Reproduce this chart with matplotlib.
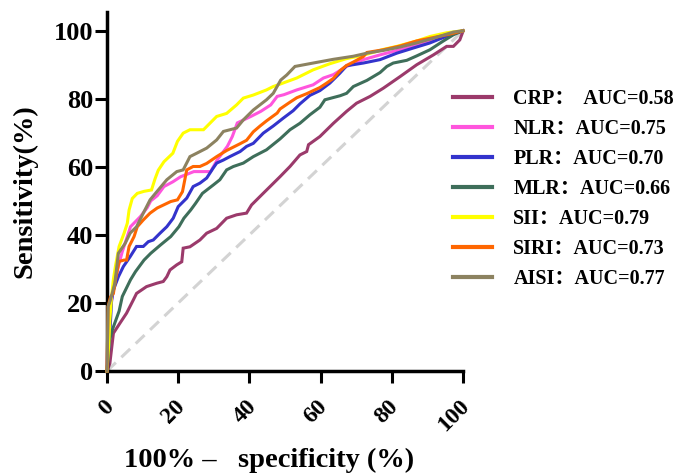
import matplotlib
matplotlib.use("Agg")
import matplotlib.pyplot as plt
import matplotlib.transforms as mtransforms
from matplotlib.font_manager import FontProperties

plt.rcParams["font.family"] = ["Liberation Serif", "Noto Sans CJK SC"]
plt.rcParams["font.weight"] = "bold"

# ROC curves (x = 100% - specificity, y = sensitivity)
crp_x = [0, 0.8, 1.8, 3.6, 5.5, 7.4, 8.3, 11.1, 14.0, 15.8, 16.8, 17.7, 19.6, 21.0, 21.4, 23.3,
         26.1, 28.0, 30.8, 33.6, 36.4, 39.2, 40.6, 43.0, 45.8, 48.6, 51.4, 54.2, 56.1, 56.6,
         59.8, 63.6, 67.3, 70.1, 73.9, 77.6, 82.3, 87.0, 91.7, 95.4, 97.3, 99.1, 100]
crp_y = [0, 2.2, 11.1, 14.0, 17.0, 20.9, 22.8, 24.8, 25.8, 26.3, 27.7, 29.7, 31.2, 32.1, 36.1, 36.5,
         38.5, 40.5, 41.9, 44.9, 45.9, 46.4, 48.8, 51.3, 54.2, 57.1, 60.1, 63.5, 64.5, 66.5,
         68.9, 72.8, 76.3, 78.7, 80.7, 83.1, 86.5, 90.0, 92.9, 95.4, 95.4, 97.3, 99.8]

nlr_x = [0, 0.2, 0.56, 1.5, 2.9, 4.3, 5.7, 6.6, 8.0, 9.4, 11.3, 12.3, 14.1, 16.0, 18.5, 20.7,
         24.4, 29.1, 31.0, 33.8, 35.2, 36.6, 40.4, 43.2, 46.0, 47.8, 49.7, 53.3, 57.9, 60.8,
         63.6, 67.3, 72.0, 76.7, 81.4, 86.0, 90.7, 95.4, 100]
nlr_y = [0, 9, 16.0, 21.9, 29.7, 35.1, 39.5, 42.4, 43.9, 45.4, 48.0, 50.0, 51.5, 54.2, 55.6, 57.1,
         58.6, 58.6, 62.1, 66.0, 68.9, 72.9, 74.8, 76.3, 78.2, 80.7, 81.2, 82.6, 84.1, 86.1,
         87.1, 89.5, 91.5, 92.9, 94.2, 95.4, 97.0, 98.3, 100]

plr_x = [0, 0.8, 1.3, 1.8, 3.2, 4.6, 6.5, 8.3, 10.2, 11.6, 13.0, 14.9, 16.8, 18.6, 20.0, 22.4,
         24.2, 26.1, 28.0, 29.8, 30.8, 32.7, 34.5, 37.4, 39.2, 41.1, 43.9, 46.7, 49.5, 52.3,
         54.2, 57.0, 59.8, 62.6, 65.4, 67.3, 72.0, 76.7, 81.4, 86.0, 90.7, 96.3, 100]
plr_y = [0, 11.1, 20.9, 23.8, 27.7, 30.7, 33.6, 36.6, 36.6, 38.0, 38.5, 40.5, 42.4, 44.9, 48.3, 50.8,
         54.2, 55.2, 56.7, 59.6, 61.1, 62.0, 63.0, 64.5, 66.0, 66.9, 69.9, 72.0, 74.3, 76.5,
         78.5, 81.0, 82.4, 84.6, 87.5, 89.7, 90.5, 91.5, 93.4, 94.9, 96.4, 98.8, 100]

mlr_x = [0, 0.7, 1.5, 3.4, 4.3, 6.6, 8.0, 10.4, 12.3, 15.1, 17.9, 20.2, 21.6, 23.5, 24.9, 26.8,
         29.9, 31.7, 33.6, 35.5, 38.3, 41.1, 44.8, 48.6, 51.4, 54.2, 57.0, 59.8, 61.2, 65.5,
         67.3, 69.2, 73.0, 76.7, 78.6, 80.4, 84.2, 87.0, 90.7, 94.5, 97.3, 100]
mlr_y = [0, 9, 12.1, 17.6, 21.9, 26.8, 29.2, 32.6, 34.6, 37.1, 39.5, 42.4, 44.9, 47.3, 49.3, 52.2,
         54.7, 56.2, 59.1, 60.1, 61.1, 63.0, 65.0, 68.2, 70.9, 72.8, 75.3, 77.5, 79.7, 80.9,
         81.6, 83.6, 85.4, 87.7, 89.5, 90.5, 91.3, 92.6, 94.4, 97.0, 98.8, 100]

sii_x = [0, 0.5, 0.8, 1.3, 1.8, 2.4, 3.4, 4.8, 5.7, 6.2, 7.1, 8.5, 10.4, 12.5, 13.5, 14.4, 16.0,
         18.5, 19.8, 21.4, 23.3, 27.1, 28.9, 30.8, 33.6, 36.4, 38.3, 41.1, 44.8, 46.7, 48.6,
         53.3, 57.9, 62.6, 67.3, 72.0, 77.6, 81.4, 87.0, 90.7, 95.4, 100]
sii_y = [0, 8, 15, 22, 27, 31, 36.6, 40.5, 43.4, 47.3, 50.7, 52.2, 52.8, 53.2, 56.5, 59.0, 61.5,
         64.0, 67.5, 69.9, 70.9, 70.9, 72.8, 74.8, 75.7, 78.2, 80.2, 81.1, 82.6, 83.6, 84.3,
         86.1, 88.5, 90.3, 91.8, 92.8, 94.5, 95.4, 97.0, 98.3, 99.4, 100]

siri_x = [0, 0.3, 1.0, 1.8, 2.4, 3.4, 4.8, 5.5, 6.2, 7.6, 8.5, 10.2, 12.1, 14.1, 17.9, 19.8, 21.2,
          22.4, 24.2, 26.1, 28.0, 30.8, 33.6, 37.4, 39.2, 41.1, 43.0, 44.8, 47.8, 48.6, 51.4,
          53.3, 56.1, 59.8, 61.7, 63.6, 65.5, 67.3, 69.2, 72.0, 73.0, 77.6, 82.3, 87.0, 91.7,
          96.3, 100]
siri_y = [0, 19, 21.8, 22.8, 26.8, 32.2, 32.6, 32.6, 36.6, 39.5, 42.4, 44.4, 46.4, 47.9, 49.8, 50.3,
          52.7, 59.1, 60.1, 60.1, 61.0, 63.0, 64.8, 66.8, 67.8, 70.3, 72.0, 73.5, 75.8, 77.0,
          79.0, 80.3, 81.5, 83.3, 84.6, 86.0, 88.3, 89.8, 90.8, 92.4, 93.6, 94.4, 95.5, 97.0,
          98.0, 99.0, 100]

aisi_x = [0, 0.3, 1.0, 2.2, 3.2, 5.1, 6.5, 8.3, 10.2, 12.1, 14.4, 16.8, 19.6, 21.4, 23.3, 25.2,
          28.0, 30.8, 32.7, 36.4, 38.3, 41.1, 44.8, 46.7, 48.8, 50.5, 52.8, 57.9, 63.6, 69.2,
          73.0, 77.6, 82.3, 87.0, 91.7, 97.3, 100]
aisi_y = [0, 18.9, 21, 25.8, 34.6, 37.5, 40.5, 42.4, 46.4, 50.3, 53.2, 56.2, 58.6, 59.1, 63.0, 64.0,
          65.5, 67.9, 70.4, 71.4, 73.8, 76.7, 79.7, 81.6, 85.5, 87.0, 89.5, 90.5, 91.6, 92.5,
          93.4, 94.2, 95.2, 96.4, 97.8, 99.6, 100]

labels = ["CRP：  AUC=0.58", "NLR：AUC=0.75", "PLR：AUC=0.70", "MLR：AUC=0.66",
          "SII：AUC=0.79", "SIRI：AUC=0.73", "AISI：AUC=0.77"]
colors = ["#9B3A6B", "#FF55DD", "#3333CC", "#3E6E5A", "#FFFF00", "#FF6600", "#8C8260"]
curves = [(crp_x, crp_y), (nlr_x, nlr_y), (plr_x, plr_y), (mlr_x, mlr_y),
          (sii_x, sii_y), (siri_x, siri_y), (aisi_x, aisi_y)]
draw_order = [0, 3, 2, 1, 4, 5, 6]

fig = plt.figure(figsize=(6.77, 4.74), dpi=100, facecolor="white")
ax = fig.add_axes([107 / 677, 103 / 474, 356 / 677, 359 / 474])

ax.plot([0, 100], [0, 100], color="#D3D3D3", lw=2.2, ls=(0, (4, 2.5)), zorder=1)

handles = {}
for i in draw_order:
    xs, ys = curves[i]
    (ln,) = ax.plot(xs, ys, color=colors[i], lw=2.2, clip_on=False, zorder=2 + i,
                    solid_joinstyle="miter")
    handles[i] = ln

ax.set_xlim(0, 100)
ax.set_ylim(0, 105.5)
ax.set_xticks([0, 20, 40, 60, 80, 100])
ax.set_yticks([0, 20, 40, 60, 80, 100])

for side in ("top", "right"):
    ax.spines[side].set_visible(False)
for side in ("left", "bottom"):
    ax.spines[side].set_linewidth(2.5)
    ax.spines[side].set_color("black")

ax.tick_params(axis="both", direction="out", length=8.5, width=2.2, color="black")
ax.tick_params(axis="y", labelsize=19, pad=1.5)
ax.tick_params(axis="x", labelsize=17, pad=9.5)

offset = mtransforms.ScaledTranslation(11 / 100, 0, fig.dpi_scale_trans)
for lab in ax.get_xticklabels():
    lab.set_rotation(45)
    lab.set_ha("right")
    lab.set_va("top")
    lab.set_transform(lab.get_transform() + offset)
    lab.set_fontweight("bold")
for lab in ax.get_yticklabels():
    lab.set_fontweight("bold")

ax.set_ylabel("Sensitivity(%)", fontsize=20.5, fontweight="bold")
ax.yaxis.set_label_coords(-0.194, 0.5)
ax.set_xlabel("100% –   specificity (%)", fontsize=20.5, fontweight="bold")
ax.xaxis.set_label_coords(0.455, -0.214)

leg_font = FontProperties(family=["Liberation Serif", "Noto Sans CJK SC"], weight="bold", size=14.5)
leg = ax.legend(
    [handles[i] for i in range(7)],
    labels,
    prop=leg_font,
    loc="upper left",
    bbox_to_anchor=(453 / 677, 1 - 89 / 474),
    bbox_transform=fig.transFigure,
    frameon=False,
    borderpad=0,
    borderaxespad=0,
    handlelength=1.95,
    handletextpad=1.05,
    labelspacing=0.5,
)
for h in leg.legend_handles:
    h.set_linewidth(3)

fig.savefig("out.png", dpi=100, facecolor="white")
